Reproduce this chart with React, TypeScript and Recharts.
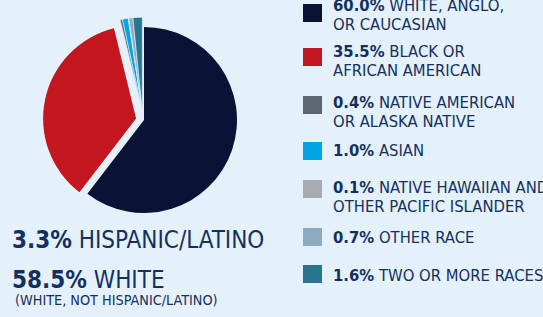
import { PieChart, Pie, Cell } from "recharts";

// race shares in percent, clockwise from 12 o'clock
const RACES = [
  "WHITE, ANGLO, OR CAUCASIAN",
  "BLACK OR AFRICAN AMERICAN",
  "NATIVE AMERICAN OR ALASKA NATIVE",
  "ASIAN",
  "NATIVE HAWAIIAN AND OTHER PACIFIC ISLANDER",
  "OTHER RACE",
  "TWO OR MORE RACES",
];
const SHARES = [60.0, 35.5, 0.4, 1.0, 0.1, 0.7, 1.6];
const LEGEND_LINES = [
  ["WHITE, ANGLO,", "OR CAUCASIAN"],
  ["BLACK OR", "AFRICAN AMERICAN"],
  ["NATIVE AMERICAN", "OR ALASKA NATIVE"],
  ["ASIAN"],
  ["NATIVE HAWAIIAN AND", "OTHER PACIFIC ISLANDER"],
  ["OTHER RACE"],
  ["TWO OR MORE RACES"],
];
// which wedge group each slice belongs to (0 = main, 1 = exploded red, 2 = exploded small ones)
const GROUP = [0, 1, 2, 2, 2, 2, 2];

const HISPANIC_SHARE = 3.3;
const WHITE_NON_HISPANIC_SHARE = 58.5;

const COLORS = ["#0a1235", "#c3161e", "#5b6670", "#00a5e3", "#a9aaae", "#8eaac1", "#27758f"];
const BG = "#e5f1fa";
const TEXT = "#13305e";
const FONT = '"Liberation Sans Narrow", "Arial Narrow", "DejaVu Sans Condensed", sans-serif';

const data = RACES.map((name, i) => ({ name, value: SHARES[i] }));

// recharts adds its 5px margin to cx/cy
const CENTER = { x: 139, y: 115 };
const RADIUS = 93;
const GROUP_OFFSET = [
  { dx: 0, dy: 0 },
  { dx: -7.9, dy: -1.4 },
  { dx: -1.7, dy: -9.8 },
];

// legend rows: square top + first baseline
const LEGEND_ROWS = [
  { top: 4, base: 11 },
  { top: 47.5, base: 57.5 },
  { top: 96, base: 108 },
  { top: 141.5, base: 156 },
  { top: 180, base: 193 },
  { top: 228, base: 243.5 },
  { top: 265, base: 281.5 },
];

export default function App() {
  return (
    <div
      style={{
        position: "absolute",
        left: 0,
        top: 0,
        width: 543,
        height: 317,
        background: BG,
        overflow: "hidden",
        fontFamily: FONT,
        color: TEXT,
      }}
    >
      <PieChart width={543} height={317} style={{ position: "absolute", left: 0, top: 0 }}>
        {GROUP_OFFSET.map((off, g) => (
          <Pie
            key={g}
            data={data}
            dataKey="value"
            cx={CENTER.x + off.dx}
            cy={CENTER.y + off.dy}
            innerRadius={0}
            outerRadius={RADIUS}
            startAngle={90}
            endAngle={-270}
            isAnimationActive={false}
            stroke="none"
          >
            {data.map((_, i) => (
              <Cell
                key={i}
                fill={GROUP[i] === g ? COLORS[i] : "transparent"}
                stroke={GROUP[i] === g && g === 2 ? BG : "none"}
                strokeWidth={0.6}
              />
            ))}
          </Pie>
        ))}
      </PieChart>

      {LEGEND_ROWS.map((row, i) => (
        <div key={i}>
          <div
            style={{
              position: "absolute",
              left: 303,
              top: row.top,
              width: 19,
              height: 18,
              background: COLORS[i],
            }}
          />
          {LEGEND_LINES[i].map((line, j) => (
            <div
              key={j}
              style={{
                position: "absolute",
                left: 333,
                top: row.base + j * 18.7 - 14.2,
                fontSize: 16.5,
                lineHeight: "17px",
                whiteSpace: "nowrap",
              }}
            >
              {j === 0 && <b>{SHARES[i].toFixed(1)}%</b>} {line}
            </div>
          ))}
        </div>
      ))}

      <div style={{ position: "absolute", left: 12, top: 227.7, fontSize: 24, lineHeight: "24px", whiteSpace: "nowrap" }}>
        <b>{HISPANIC_SHARE.toFixed(1)}%</b> HISPANIC/LATINO
      </div>
      <div style={{ position: "absolute", left: 12, top: 267.7, fontSize: 24, lineHeight: "24px", whiteSpace: "nowrap" }}>
        <b>{WHITE_NON_HISPANIC_SHARE.toFixed(1)}%</b> WHITE
      </div>
      <div style={{ position: "absolute", left: 15, top: 292.5, fontSize: 14.3, lineHeight: "15px", whiteSpace: "nowrap" }}>
        (WHITE, NOT HISPANIC/LATINO)
      </div>
    </div>
  );
}
